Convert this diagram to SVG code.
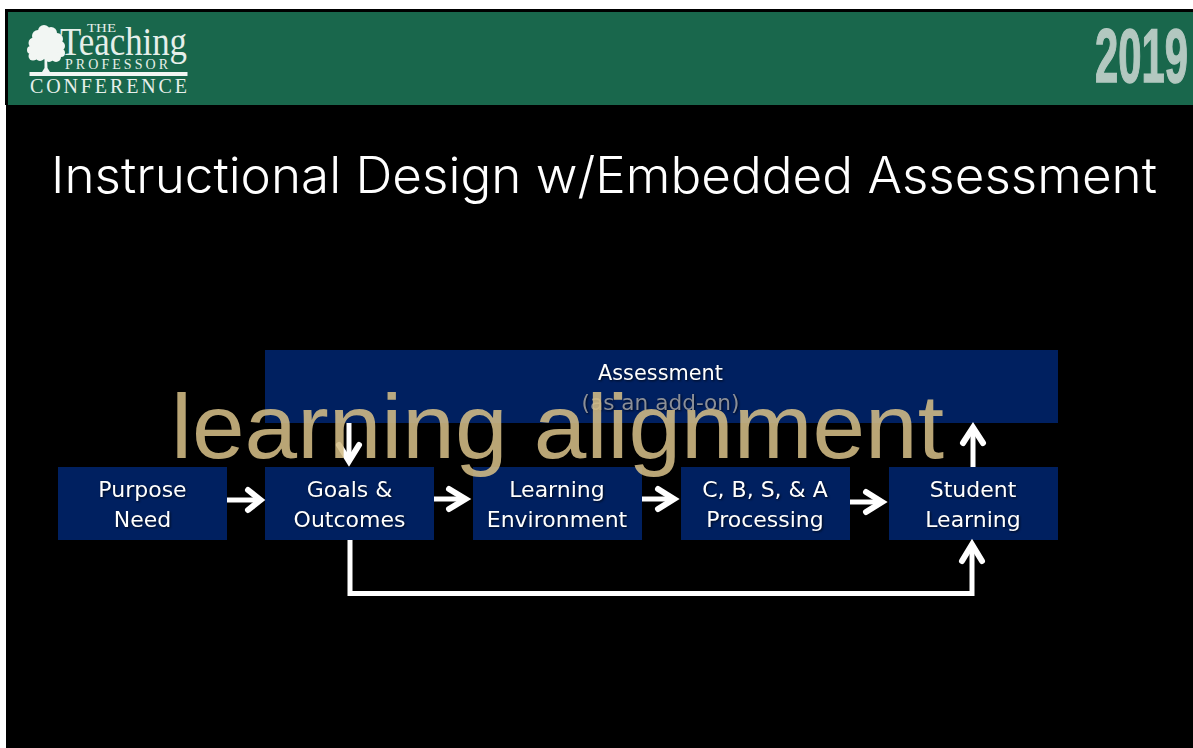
<svg xmlns="http://www.w3.org/2000/svg" width="1193" height="748" viewBox="0 0 1193 748">
<style>
.box{fill:#002060}
.bt{font-family:"DejaVu Sans",sans-serif;font-size:22px;fill:#fff;text-anchor:middle;filter:drop-shadow(1px 1px 1px rgba(0,0,0,.7))}
.ln{fill:none;stroke:#fff;stroke-width:5}
.hd{fill:none;stroke:#fff;stroke-width:6;stroke-linecap:round;stroke-linejoin:miter}
.lg{font-family:"Liberation Serif",serif;fill:#e6efea}
</style>
<rect width="1193" height="748" fill="#fff"/>
<rect x="6" y="9" width="1187" height="739" fill="#000"/>
<rect x="5" y="9" width="3" height="96" fill="#000"/>
<g id="header">
<rect x="8" y="12" width="1185" height="93" fill="#19674c"/>
<g id="tree" fill="#f2f6f3">
<circle cx="44" cy="31" r="6"/><circle cx="51" cy="33" r="6"/><circle cx="38" cy="36" r="6"/><circle cx="57" cy="39" r="6"/><circle cx="34" cy="43" r="5.500"/><circle cx="60" cy="46" r="5"/><circle cx="31" cy="50" r="4"/><circle cx="33" cy="56" r="4.500"/><circle cx="61" cy="53" r="4"/><circle cx="56" cy="57" r="5"/><circle cx="46" cy="45" r="14"/><circle cx="40" cy="56" r="5"/><circle cx="49" cy="57" r="5"/>
<path d="M44.500 58H47L47.500 68L50 72H42L44.500 68Z"/>
</g>
<rect x="29.500" y="72" width="158" height="4" fill="#f2f6f3"/>
<text class="lg" x="87" y="32" font-size="13" textLength="29" lengthAdjust="spacingAndGlyphs">THE</text>
<text class="lg" x="60" y="54.500" font-size="41" textLength="127" lengthAdjust="spacingAndGlyphs">Teaching</text>
<text class="lg" x="65" y="69" font-size="14" textLength="103" lengthAdjust="spacing">PROFESSOR</text>
<text class="lg" x="30" y="92.500" font-size="20" textLength="157" lengthAdjust="spacing">CONFERENCE</text>
<text x="1095" y="81.500" font-family="'Liberation Sans',sans-serif" font-weight="700" font-size="76" fill="#b3c8c0" stroke="#b3c8c0" stroke-width="1.500" textLength="93" lengthAdjust="spacingAndGlyphs">2019</text>
</g>
<text id="title" x="51" y="193" font-family="Inter,sans-serif" font-weight="300" font-size="50" fill="#fff" textLength="1106" lengthAdjust="spacingAndGlyphs">Instructional Design w/Embedded Assessment</text>
<g id="assessment">
<rect class="box" x="265" y="350" width="793" height="73"/>
<text class="bt" x="660.500" y="380" textLength="125" lengthAdjust="spacingAndGlyphs">Assessment</text>
<text class="bt" x="660.500" y="410" style="fill:#8b8f97" textLength="158" lengthAdjust="spacingAndGlyphs">(as an add-on)</text>
</g>
<g id="purpose"><rect class="box" x="58" y="467" width="169" height="73"/><text class="bt" x="142.500" y="497">Purpose</text><text class="bt" x="142.500" y="527">Need</text></g>
<g id="goals"><rect class="box" x="265" y="467" width="169" height="73"/><text class="bt" x="349.500" y="497">Goals &amp;</text><text class="bt" x="349.500" y="527">Outcomes</text></g>
<g id="environment"><rect class="box" x="473" y="467" width="169" height="73"/><text class="bt" x="557" y="497">Learning</text><text class="bt" x="557" y="527">Environment</text></g>
<g id="processing"><rect class="box" x="681" y="467" width="169" height="73"/><text class="bt" x="765" y="497">C, B, S, &amp; A</text><text class="bt" x="765" y="527">Processing</text></g>
<g id="student"><rect class="box" x="889" y="467" width="169" height="73"/><text class="bt" x="973" y="497">Student</text><text class="bt" x="973" y="527">Learning</text></g>
<g id="connectors">
<path class="ln" d="M227 500H258"/><path class="hd" d="M248 490L260.500 500L248 510"/>
<path class="ln" d="M434 499H462"/><path class="hd" d="M449 489L465.500 499L449 509"/>
<path class="ln" d="M642 499H670"/><path class="hd" d="M658 489L674 499L658 509"/>
<path class="ln" d="M850 502H878"/><path class="hd" d="M866 492L882 502L866 512"/>
<path class="ln" d="M973 467V432"/><path class="hd" d="M963 443L973 427.500L983 443"/>
<path class="ln" d="M349 423V458"/><path class="hd" d="M339 445L349 461L359 445"/>
<path class="ln" d="M350 540V593.500H972V550"/><path class="hd" d="M962 561L972 544.500L982 561"/>
</g>
<text id="overlay" x="171" y="458" font-family="'Liberation Sans',sans-serif" font-size="91" fill="#d3bc85" fill-opacity=".88" textLength="773" lengthAdjust="spacingAndGlyphs">learning alignment</text>
</svg>
